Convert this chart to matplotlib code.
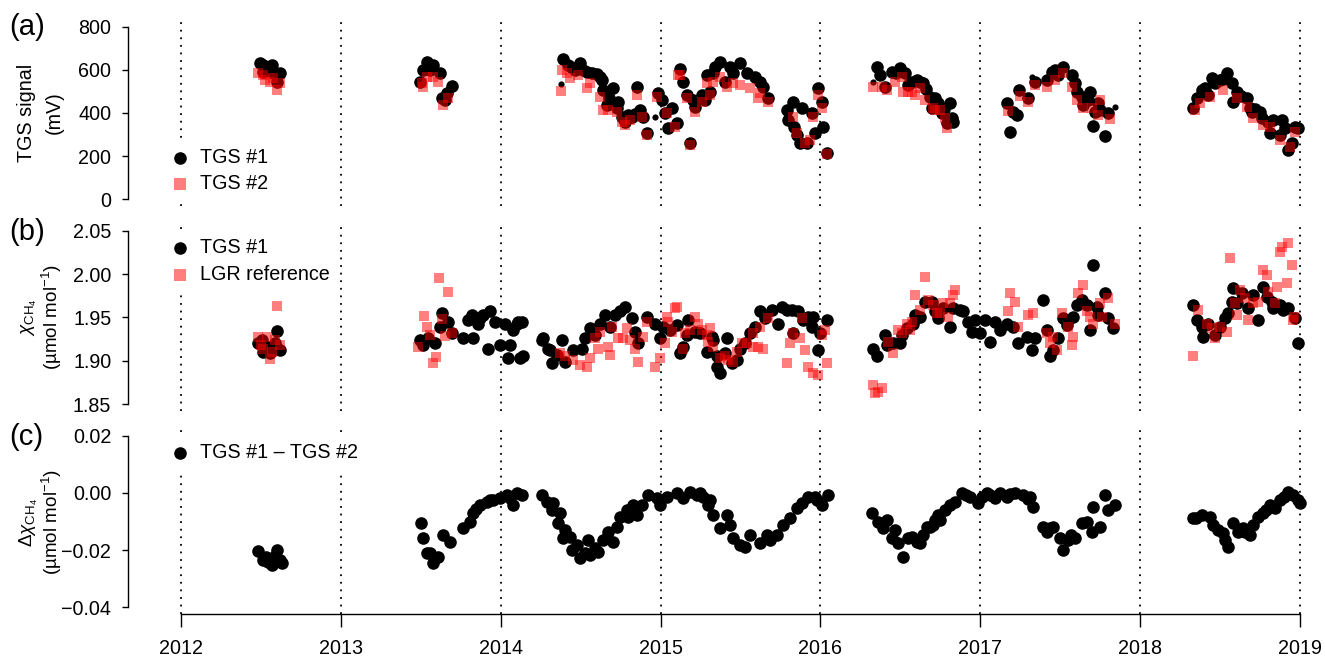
import matplotlib
matplotlib.use("Agg")
import matplotlib.pyplot as plt
import numpy as np

plt.rcParams['font.family'] = ['Liberation Sans', 'DejaVu Sans']
plt.rcParams['mathtext.fontset'] = 'custom'
plt.rcParams['mathtext.rm'] = 'Liberation Sans'
plt.rcParams['mathtext.it'] = 'Liberation Sans:italic'
plt.rcParams['mathtext.sf'] = 'Liberation Sans'

years = [2012, 2013, 2014, 2015, 2016, 2017, 2018, 2019]

# ---------------- panel (a): TGS signal (mV) ----------------
a1_t = [2012.494, 2012.515, 2012.567, 2012.557, 2012.619, 2012.599, 2012.515, 2012.577,
        2013.537, 2013.578, 2013.516, 2013.558, 2013.620, 2013.495, 2013.693, 2013.662, 2013.631, 2013.651,
        2014.391, 2014.423, 2014.44, 2014.465, 2014.48, 2014.496, 2014.517, 2014.54, 2014.569, 2014.60,
        2014.621, 2014.632, 2014.642, 2014.663, 2014.68, 2014.704, 2014.726, 2014.736, 2014.757, 2014.777,
        2014.798, 2014.82, 2014.84, 2014.851, 2014.871, 2014.892, 2014.913, 2014.986, 2015.007, 2015.028,
        2015.048, 2015.070, 2015.101, 2015.121, 2015.142, 2015.163, 2015.184, 2015.205, 2015.215, 2015.257,
        2015.278, 2015.288, 2015.309, 2015.330, 2015.340, 2015.372, 2015.403, 2015.434, 2015.455, 2015.497,
        2015.539, 2015.591, 2015.622, 2015.643, 2015.674, 2015.789, 2015.800, 2015.830, 2015.835, 2015.851,
        2015.872, 2015.883, 2015.914, 2015.945, 2015.966, 2015.987, 2016.008, 2016.018, 2016.039,
        2016.352, 2016.373, 2016.404, 2016.446, 2016.47, 2016.498, 2016.529, 2016.550, 2016.57, 2016.602,
        2016.62, 2016.643, 2016.66, 2016.685, 2016.696, 2016.717, 2016.737, 2016.758, 2016.77, 2016.790,
        2016.810, 2016.821, 2016.831,
        2017.165, 2017.186, 2017.206, 2017.228, 2017.244, 2017.300, 2017.342, 2017.415, 2017.446, 2017.467,
        2017.488, 2017.519, 2017.572, 2017.592, 2017.603, 2017.634, 2017.644, 2017.676, 2017.686, 2017.707,
        2017.717, 2017.738, 2017.749, 2017.780, 2017.801,
        2018.332, 2018.354, 2018.385, 2018.405, 2018.426, 2018.447, 2018.47, 2018.499, 2018.52, 2018.541,
        2018.573, 2018.583, 2018.604, 2018.63, 2018.666, 2018.687, 2018.697, 2018.72, 2018.749, 2018.760,
        2018.801, 2018.812, 2018.833, 2018.875, 2018.885, 2018.906, 2018.927, 2018.948, 2018.969, 2018.990]
a1_v = [631, 623, 623, 600, 587, 546, 592, 585,
        639, 623, 600, 600, 585, 546, 526, 494, 468, 460,
        650, 623, 615, 600, 610, 631, 600, 590, 585, 580,
        569, 553, 507, 437, 470, 515, 422, 453, 383, 360,
        391, 380, 395, 522, 414, 383, 306, 492, 460, 399,
        329, 422, 352, 603, 546, 484, 259, 460, 429, 484,
        460, 577, 499, 585, 615, 639, 546, 615, 585, 631,
        585, 569, 546, 522, 468, 414, 367, 453, 336, 298,
        259, 422, 259, 399, 306, 515, 453, 336, 213,
        615, 577, 522, 592, 585, 608, 585, 530, 545, 553,
        545, 538, 510, 476, 422, 468, 445, 399, 420, 352,
        445, 375, 360,
        445, 313, 406, 391, 507, 468, 546, 553, 592, 600,
        577, 615, 577, 538, 499, 476, 437, 460, 499, 340,
        406, 445, 414, 293, 399,
        422, 468, 507, 515, 484, 561, 540, 553, 560, 585,
        538, 453, 499, 480, 468, 422, 406, 420, 406, 375,
        360, 306, 367, 298, 367, 329, 228, 259, 336, 329]
a1s_t = [2014.377, 2014.965, 2016.331, 2017.322, 2017.843]
a1s_v = [533, 383, 546, 566, 429]

a2_t = [2012.484, 2012.515, 2012.525, 2012.557, 2012.577, 2012.599, 2012.619,
        2013.506, 2013.516, 2013.537, 2013.578, 2013.610, 2013.641, 2013.672,
        2014.377, 2014.381, 2014.413, 2014.433, 2014.486, 2014.538, 2014.558, 2014.621, 2014.642, 2014.673,
        2014.726, 2014.757, 2014.777, 2014.809, 2014.851, 2014.882, 2014.913, 2014.976, 2015.038, 2015.090,
        2015.111, 2015.121, 2015.163, 2015.184, 2015.215, 2015.257, 2015.288, 2015.309, 2015.330, 2015.372,
        2015.414, 2015.455, 2015.497, 2015.559, 2015.611, 2015.622, 2015.674, 2015.830, 2015.851, 2015.903,
        2015.935, 2015.955, 2015.987, 2016.008, 2016.039,
        2016.331, 2016.383, 2016.414, 2016.467, 2016.508, 2016.519, 2016.550, 2016.571, 2016.592, 2016.623,
        2016.654, 2016.706, 2016.717, 2016.748, 2016.779, 2016.790,
        2017.17, 2017.25, 2017.300, 2017.342, 2017.415, 2017.467, 2017.519, 2017.572, 2017.603, 2017.644,
        2017.70, 2017.738, 2017.75, 2017.81,
        2018.343, 2018.374, 2018.437, 2018.520, 2018.604, 2018.666, 2018.708, 2018.770, 2018.812, 2018.875,
        2018.937, 2018.969]
a2_v = [585, 577, 553, 546, 561, 507, 538,
        538, 522, 569, 569, 546, 437, 468,
        502, 600, 585, 561, 577, 515, 538, 476, 414, 414,
        406, 360, 344, 367, 484, 383, 298, 476, 399, 336,
        577, 577, 468, 250, 406, 453, 538, 484, 546, 569,
        522, 538, 530, 515, 468, 492, 453, 383, 306, 259,
        274, 383, 484, 422, 210,
        522, 522, 507, 546, 569, 499, 499, 499, 484, 515,
        460, 422, 414, 414, 375, 329,
        410, 480, 453, 530, 522, 553, 585, 522, 460, 422,
        425, 391, 460, 370,
        414, 445, 476, 507, 468, 429, 375, 344, 336, 274,
        243, 313]

# ---------------- panel (b): mixing ratio ----------------
b1_t = [2012.484, 2012.505, 2012.515, 2012.53, 2012.557, 2012.557, 2012.588, 2012.599, 2012.619,
        2013.495, 2013.516, 2013.547, 2013.589, 2013.620, 2013.631, 2013.672, 2013.693, 2013.766, 2013.797,
        2013.818, 2013.828, 2013.860, 2013.870, 2013.891, 2013.922, 2013.933, 2013.964, 2013.995, 2014.027,
        2014.047, 2014.058, 2014.079, 2014.100, 2014.110, 2014.121, 2014.131, 2014.137,
        2014.256, 2014.266, 2014.298, 2014.308, 2014.319, 2014.350, 2014.381, 2014.402, 2014.454, 2014.507,
        2014.527, 2014.558, 2014.590, 2014.621, 2014.652, 2014.684, 2014.715, 2014.746, 2014.777, 2014.819,
        2014.840, 2014.861, 2014.913, 2014.965, 2014.996, 2015.017, 2015.059, 2015.101, 2015.121, 2015.142,
        2015.163, 2015.173, 2015.215, 2015.247, 2015.288, 2015.320, 2015.330, 2015.351, 2015.351, 2015.372,
        2015.403, 2015.414, 2015.445, 2015.476, 2015.497, 2015.528, 2015.559, 2015.591, 2015.622, 2015.653,
        2015.695, 2015.736, 2015.758, 2015.789, 2015.820, 2015.830, 2015.862, 2015.893, 2015.924, 2015.945,
        2015.955, 2015.987, 2015.997, 2016.039,
        2016.331, 2016.352, 2016.404, 2016.414, 2016.456, 2016.498, 2016.508, 2016.540, 2016.581, 2016.592,
        2016.623, 2016.654, 2016.696, 2016.717, 2016.737, 2016.769, 2016.810, 2016.831, 2016.873, 2016.894,
        2016.925, 2016.946, 2016.967, 2016.998, 2017.029, 2017.061, 2017.092, 2017.123, 2017.165, 2017.206,
        2017.238, 2017.290, 2017.322, 2017.342, 2017.394, 2017.415, 2017.436, 2017.457, 2017.488, 2017.519,
        2017.540, 2017.582, 2017.603, 2017.634, 2017.665, 2017.686, 2017.707, 2017.728, 2017.738, 2017.780,
        2017.801, 2017.832,
        2018.332, 2018.354, 2018.385, 2018.395, 2018.426, 2018.468, 2018.499, 2018.531, 2018.551, 2018.573,
        2018.583, 2018.604, 2018.635, 2018.676, 2018.708, 2018.739, 2018.770, 2018.791, 2018.823, 2018.833,
        2018.875, 2018.895, 2018.927, 2018.969, 2018.990]
b1_v = [1.920, 1.924, 1.910, 1.915, 1.916, 1.909, 1.920, 1.934, 1.912,
        1.924, 1.918, 1.926, 1.920, 1.939, 1.955, 1.945, 1.932, 1.926, 1.947,
        1.953, 1.926, 1.943, 1.949, 1.953, 1.914, 1.958, 1.945, 1.918, 1.943,
        1.903, 1.918, 1.936, 1.943, 1.945, 1.903, 1.945, 1.905,
        1.924, 1.926, 1.914, 1.912, 1.897, 1.907, 1.924, 1.899, 1.912, 1.914,
        1.926, 1.9375, 1.930, 1.943, 1.953, 1.939, 1.953, 1.957, 1.9625, 1.949,
        1.9336, 1.920, 1.951, 1.943, 1.926, 1.939, 1.9355, 1.9413, 1.9086, 1.916,
        1.930, 1.947, 1.9336, 1.9317, 1.9105, 1.928, 1.924, 1.893, 1.905, 1.8855,
        1.9086, 1.926, 1.897, 1.901, 1.914, 1.920, 1.9317, 1.939, 1.957, 1.949,
        1.9587, 1.943, 1.9625, 1.9587, 1.9587, 1.9317, 1.957, 1.947, 1.951, 1.939,
        1.951, 1.912, 1.9317, 1.947,
        1.914, 1.905, 1.930, 1.918, 1.920, 1.920, 1.930, 1.9375, 1.943, 1.953,
        1.951, 1.968, 1.968, 1.957, 1.949, 1.9606, 1.939, 1.9606, 1.9587, 1.957,
        1.945, 1.9336, 1.947, 1.9317, 1.947, 1.922, 1.945, 1.9355, 1.943, 1.939,
        1.920, 1.928, 1.912, 1.926, 1.970, 1.9355, 1.905, 1.912, 1.926, 1.949,
        1.9413, 1.951, 1.9644, 1.970, 1.9644, 1.9355, 2.0107, 1.9625, 1.953, 1.978,
        1.949, 1.9375,
        1.9644, 1.947, 1.939, 1.928, 1.943, 1.930, 1.939, 1.949, 1.955, 1.968,
        1.9837, 1.9664, 1.978, 1.9606, 1.976, 1.947, 1.9856, 1.974, 1.968, 1.9606,
        1.9644, 1.9587, 1.9606, 1.949, 1.920]

b2_t = [2012.484, 2012.50, 2012.515, 2012.536, 2012.557, 2012.57, 2012.588, 2012.599, 2012.619,
        2013.484, 2013.520, 2013.537, 2013.558, 2013.578, 2013.593, 2013.616, 2013.631, 2013.651, 2013.668,
        2013.693,
        2014.371, 2014.402, 2014.454, 2014.496, 2014.538, 2014.558, 2014.590, 2014.610, 2014.621, 2014.673,
        2014.684, 2014.694, 2014.736, 2014.767, 2014.788, 2014.809, 2014.840, 2014.861, 2014.892, 2014.913,
        2014.965, 2014.996, 2015.028, 2015.038, 2015.048, 2015.070, 2015.090, 2015.101, 2015.142, 2015.153,
        2015.184, 2015.215, 2015.236, 2015.257, 2015.288, 2015.298, 2015.309, 2015.330, 2015.372, 2015.403,
        2015.424, 2015.455, 2015.476, 2015.507, 2015.539, 2015.580, 2015.580, 2015.611, 2015.622, 2015.643,
        2015.674, 2015.789, 2015.810, 2015.830, 2015.872, 2015.883, 2015.903, 2015.924, 2015.955, 2015.987,
        2016.008, 2016.029, 2016.039,
        2016.331, 2016.341, 2016.362, 2016.383, 2016.425, 2016.456, 2016.487, 2016.508, 2016.540, 2016.560,
        2016.571, 2016.592, 2016.623, 2016.654, 2016.675, 2016.706, 2016.727, 2016.748, 2016.769, 2016.800,
        2016.810, 2016.831, 2016.842,
        2017.175, 2017.186, 2017.217, 2017.238, 2017.300, 2017.332, 2017.415, 2017.436, 2017.457, 2017.478,
        2017.509, 2017.550, 2017.572, 2017.582, 2017.613, 2017.644, 2017.665, 2017.686, 2017.707, 2017.749,
        2017.759, 2017.801, 2017.843,
        2018.332, 2018.364, 2018.416, 2018.447, 2018.468, 2018.499, 2018.541, 2018.562, 2018.593, 2018.604,
        2018.625, 2018.656, 2018.676, 2018.708, 2018.739, 2018.770, 2018.791, 2018.801, 2018.843, 2018.854,
        2018.875, 2018.885, 2018.916, 2018.927, 2018.948, 2018.958, 2018.965]
b2_v = [1.928, 1.918, 1.914, 1.928, 1.902, 1.910, 1.924, 1.963, 1.918,
        1.916, 1.952, 1.939, 1.930, 1.898, 1.904, 1.996, 1.948, 1.929, 1.980,
        1.932,
        1.9086, 1.905, 1.901, 1.895, 1.893, 1.9028, 1.926, 1.914, 1.9336, 1.916,
        1.907, 1.939, 1.926, 1.926, 1.9375, 1.924, 1.914, 1.899, 1.928, 1.945,
        1.893, 1.9028, 1.920, 1.951, 1.945, 1.9336, 1.9606, 1.9625, 1.914, 1.9317,
        1.9355, 1.951, 1.943, 1.9355, 1.930, 1.922, 1.9375, 1.916, 1.9028, 1.905,
        1.901, 1.899, 1.9105, 1.920, 1.920, 1.916, 1.9317, 1.916, 1.939, 1.914,
        1.949, 1.897, 1.920, 1.9317, 1.926, 1.949, 1.912, 1.893, 1.8855, 1.8835,
        1.930, 1.9355, 1.897,
        1.872, 1.8624, 1.864, 1.868, 1.922, 1.9086, 1.9355, 1.9317, 1.943, 1.9355,
        1.945, 1.976, 1.9587, 1.997, 1.970, 1.9644, 1.955, 1.955, 1.9664, 1.951,
        1.9664, 1.976, 1.982,
        1.957, 1.978, 1.968, 1.939, 1.953, 1.955, 1.9317, 1.920, 1.928, 1.912,
        1.955, 1.939, 1.918, 1.928, 1.978, 1.9876, 1.957, 1.951, 1.943, 1.9664,
        1.951, 1.972, 1.943,
        1.905, 1.9587, 1.943, 1.9375, 1.926, 1.939, 1.9336, 2.0184, 1.9664, 1.953,
        1.982, 1.972, 1.947, 1.9664, 1.968, 2.005, 1.999, 1.980, 1.9664, 1.9856,
        2.026, 2.0318, 1.9895, 2.0358, 2.0107, 1.947, 1.951]

# ---------------- panel (c): TGS #1 - TGS #2 ----------------
c_t = [2012.482, 2012.513, 2012.532, 2012.544, 2012.569, 2012.588, 2012.600, 2012.619, 2012.632,
       2013.499, 2013.516, 2013.537, 2013.558, 2013.578, 2013.610, 2013.641, 2013.683, 2013.766, 2013.808,
       2013.828, 2013.845, 2013.870, 2013.912, 2013.933, 2013.954, 2013.995, 2014.037, 2014.058, 2014.079,
       2014.102, 2014.131,
       2014.256, 2014.288, 2014.319, 2014.329, 2014.360, 2014.371, 2014.391, 2014.402, 2014.433, 2014.444,
       2014.475, 2014.496, 2014.527, 2014.548, 2014.558, 2014.590, 2014.610, 2014.642, 2014.673, 2014.704,
       2014.726, 2014.746, 2014.788, 2014.796, 2014.829, 2014.851, 2014.882, 2014.923, 2014.976, 2014.996,
       2015.038, 2015.101, 2015.142, 2015.184, 2015.226, 2015.247, 2015.267, 2015.298, 2015.309, 2015.330,
       2015.372, 2015.414, 2015.434, 2015.455, 2015.497, 2015.528, 2015.559, 2015.622, 2015.664, 2015.685,
       2015.726, 2015.768, 2015.810, 2015.851, 2015.883, 2015.924, 2015.966, 2015.977, 2016.008, 2016.049,
       2016.321, 2016.362, 2016.393, 2016.415, 2016.446, 2016.466, 2016.487, 2016.518, 2016.550, 2016.571,
       2016.602, 2016.623, 2016.643, 2016.665, 2016.685, 2016.706, 2016.717, 2016.737, 2016.748, 2016.779,
       2016.810, 2016.842, 2016.884, 2016.911, 2016.936, 2016.987, 2017.009, 2017.040, 2017.061, 2017.092,
       2017.123, 2017.165, 2017.186, 2017.217, 2017.269, 2017.298, 2017.311, 2017.332,
       2017.394, 2017.415, 2017.436, 2017.457, 2017.498, 2017.519, 2017.550, 2017.567, 2017.592, 2017.634,
       2017.666, 2017.697, 2017.707, 2017.749, 2017.780, 2017.801, 2017.843,
       2018.332, 2018.350, 2018.385, 2018.437, 2018.458, 2018.489, 2018.520, 2018.531, 2018.551, 2018.583,
       2018.614, 2018.643, 2018.656, 2018.687, 2018.708, 2018.739, 2018.770, 2018.787, 2018.812, 2018.843,
       2018.875, 2018.900, 2018.927, 2018.958, 2018.989, 2019.000]
c_v = [-0.0204, -0.0235, -0.0225, -0.0242, -0.0253, -0.0221, -0.0200, -0.0235, -0.0246,
       -0.0106, -0.0159, -0.0212, -0.0211, -0.0247, -0.0224, -0.0147, -0.0171, -0.0124, -0.0101,
       -0.0071, -0.0056, -0.0042, -0.0031, -0.0025, -0.0025, -0.0019, -0.0007, -0.0018, -0.0042,
       0.0000, -0.0007,
       -0.0007, -0.0031, -0.0060, -0.0036, -0.0106, -0.0071, -0.0159, -0.0130, -0.0153, -0.0200,
       -0.0183, -0.0229, -0.0211, -0.0165, -0.0218, -0.0193, -0.0206, -0.0165, -0.0136, -0.0171,
       -0.0118, -0.0083, -0.0060, -0.0084, -0.0042, -0.0077, -0.0042, -0.0007, -0.0019, -0.0042,
       -0.0013, -0.0001, -0.0019, 0.0004, -0.0007, 0.0000, -0.0013, -0.0042, -0.0025, -0.0077,
       -0.0124, -0.0077, -0.0112, -0.0159, -0.0183, -0.0189, -0.0147, -0.0177, -0.0147, -0.0165,
       -0.0147, -0.0112, -0.0089, -0.0054, -0.0036, -0.0013, -0.0014, -0.0025, -0.0042, -0.0007,
       -0.0071, -0.0101, -0.0124, -0.0095, -0.0159, -0.0130, -0.0177, -0.0224, -0.0159, -0.0153,
       -0.0171, -0.0177, -0.0147, -0.0118, -0.0118, -0.0112, -0.0095, -0.0077, -0.0095, -0.0060,
       -0.0042, -0.0031, -0.0001, -0.0007, -0.0013, -0.0036, -0.0013, -0.0001, -0.0007, -0.0019,
       -0.0001, -0.0013, -0.0004, -0.0001, -0.0007, -0.0021, -0.0013, -0.0048,
       -0.0118, -0.0136, -0.0123, -0.0118, -0.0159, -0.0200, -0.0165, -0.0147, -0.0159, -0.0106,
       -0.0101, -0.0136, -0.0048, -0.0118, -0.0007, -0.0060, -0.0042,
       -0.0089, -0.0088, -0.0077, -0.0083, -0.0112, -0.0130, -0.0142, -0.0165, -0.0189, -0.0106,
       -0.0136, -0.0123, -0.0136, -0.0147, -0.0112, -0.0083, -0.0071, -0.0060, -0.0042, -0.0054,
       -0.0025, -0.0014, 0.0004, -0.0007, -0.0025, -0.0035]

# ---------------- layout ----------------
W, H = 1325, 663
fig = plt.figure(figsize=(W / 100, H / 100), dpi=100)
left = 128 / W
width = (W - 128) / W
xlim = (2011.6685, 2019.156)

def px_axes(top, bottom):
    return fig.add_axes([left, 1 - bottom / H, width, (bottom - top) / H])

axa = px_axes(20, 206)
axb = px_axes(224, 411)
axc = px_axes(429, 614)

RED = (1.0, 0.0, 0.0, 0.5)
FS = 14.2
S_CIRC = 82
S_SQ = 58

for ax in (axa, axb, axc):
    ax.set_xlim(*xlim)
    for y in years:
        ax.axvline(y, color='black', lw=1.3, ls=(0, (1, 3.2)), zorder=0)
    for s in ('top', 'right'):
        ax.spines[s].set_visible(False)
    ax.spines['left'].set_linewidth(1.0)
    ax.tick_params(axis='y', direction='out', length=4.5, width=1.0, labelsize=FS, pad=7.5)
    ax.patch.set_alpha(0)

for ax in (axa, axb):
    ax.spines['bottom'].set_visible(False)
    ax.set_xticks([])

# panel a
axa.set_ylim(-32, 832)
axa.set_yticks([0, 200, 400, 600, 800])
axa.spines['left'].set_bounds(0, 800)
axa.scatter(a1_t, a1_v, s=S_CIRC, color='black', linewidths=0, zorder=2, label='TGS #1', clip_on=False)
axa.scatter(a1s_t, a1s_v, s=20, color='black', linewidths=0, zorder=2, clip_on=False)
axa.scatter(a2_t, a2_v, s=S_SQ, marker='s', color=RED, linewidths=0, zorder=3, label='TGS #2', clip_on=False)

# panel b
axb.set_ylim(1.842, 2.058)
axb.set_yticks([1.85, 1.90, 1.95, 2.00, 2.05])
axb.set_yticklabels(['1.85', '1.90', '1.95', '2.00', '2.05'])
axb.spines['left'].set_bounds(1.85, 2.05)
axb.scatter(b1_t, b1_v, s=S_CIRC, color='black', linewidths=0, zorder=2, label='TGS #1', clip_on=False)
axb.scatter(b2_t, b2_v, s=S_SQ, marker='s', color=RED, linewidths=0, zorder=3, label='LGR reference', clip_on=False)

# panel c
axc.set_ylim(-0.0424, 0.0224)
axc.set_yticks([-0.04, -0.02, 0.0, 0.02])
axc.set_yticklabels(['\u22120.04', '\u22120.02', '0.00', '0.02'])
axc.spines['left'].set_bounds(-0.04, 0.02)
axc.scatter(c_t, c_v, s=S_CIRC, color='black', linewidths=0, zorder=2, label='TGS #1 \u2013 TGS #2', clip_on=False)
axc.spines['bottom'].set_bounds(2012, 2019)
axc.spines['bottom'].set_linewidth(1.0)
axc.set_xticks(years)
axc.set_xticklabels([str(y) for y in years])
axc.tick_params(axis='x', direction='out', length=9, width=1.0, labelsize=FS, pad=9)

# legends
leg_kw = dict(frameon=True, facecolor='white', edgecolor='none', framealpha=1.0, fancybox=False,
              fontsize=FS, handlelength=1.0, handletextpad=0.5, borderaxespad=0.0,
              borderpad=0.4, labelspacing=0.37, scatterpoints=1)
la = axa.legend(loc='lower left', bbox_to_anchor=(0.029, 0.027), **leg_kw)
lb = axb.legend(loc='upper left', bbox_to_anchor=(0.029, 0.965), **leg_kw)
lc = axc.legend(loc='upper left', bbox_to_anchor=(0.029, 0.968), **leg_kw)
for lg in (la, lb, lc):
    lg.set_zorder(5)
    for h in lg.legend_handles:
        h.set_sizes([S_CIRC])

# y labels (two lines each)
LFS = 14.2
LFS2 = 13.6
fig.text(26 / W, 1 - 113 / H, 'TGS signal', rotation=90, ha='center', va='center', fontsize=LFS)
fig.text(54 / W, 1 - 113 / H, '(mV)', rotation=90, ha='center', va='center', fontsize=LFS)
fig.text(29 / W, 1 - 317 / H, r'$\chi_{\mathrm{CH_4}}$', rotation=90, ha='center', va='center', fontsize=LFS2)
fig.text(52 / W, 1 - 317 / H, '(\u00b5mol mol$^{-1}$)', rotation=90, ha='center', va='center', fontsize=LFS2)
fig.text(29 / W, 1 - 522 / H, r'$\Delta\chi_{\mathrm{CH_4}}$', rotation=90, ha='center', va='center', fontsize=LFS2)
fig.text(52 / W, 1 - 522 / H, '(\u00b5mol mol$^{-1}$)', rotation=90, ha='center', va='center', fontsize=LFS2)

# panel letters
fig.text(9 / W, 1 - 27 / H, '(a)', ha='left', va='center', fontsize=21)
fig.text(9 / W, 1 - 232 / H, '(b)', ha='left', va='center', fontsize=21)
fig.text(9 / W, 1 - 437 / H, '(c)', ha='left', va='center', fontsize=21)

fig.savefig('out.png', dpi=100, facecolor='white')
